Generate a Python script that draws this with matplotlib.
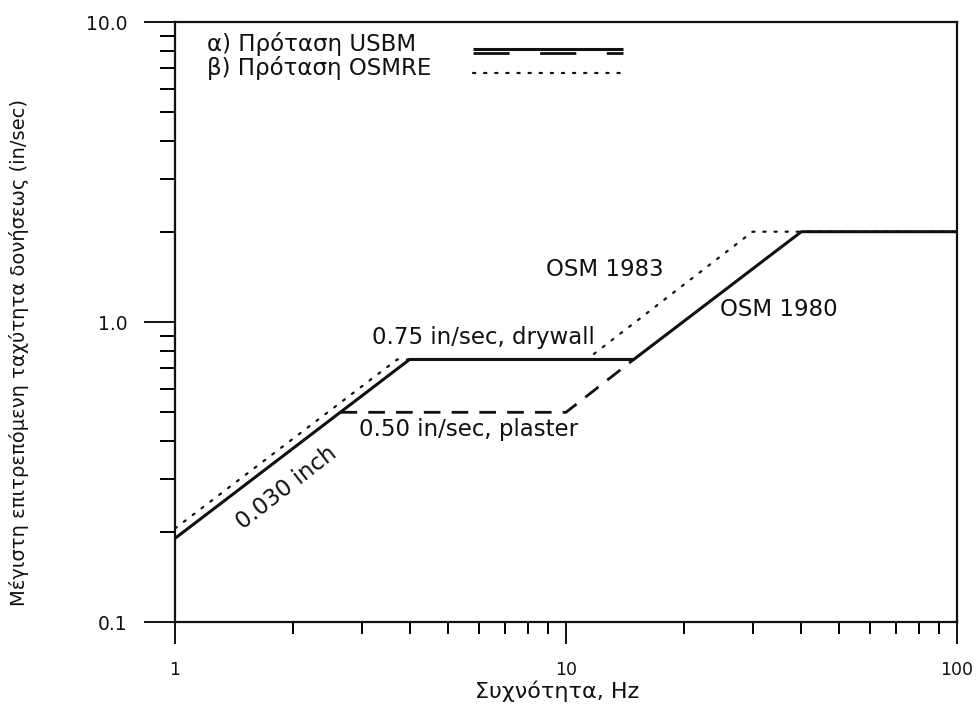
import matplotlib
matplotlib.use("Agg")
import matplotlib.pyplot as plt
from matplotlib.ticker import FixedLocator, FixedFormatter, LogLocator, NullFormatter

plt.rcParams["font.family"] = ["DejaVu Sans"]

# USBM criterion (drywall): 0.030 in displacement, 0.75 in/s plateau, 0.008 in displacement, 2.0 in/s
usbm_drywall_hz = [1.0, 3.98, 14.9, 40.0, 100.0]
usbm_drywall_ips = [0.19, 0.75, 0.75, 2.0, 2.0]

# USBM criterion (plaster): 0.50 in/s plateau
usbm_plaster_hz = [2.65, 10.0, 14.9]
usbm_plaster_ips = [0.5, 0.5, 0.75]

# OSMRE criterion (OSM 1983)
osmre_hz = [1.0, 3.7, 11.3, 30.0, 100.0]
osmre_ips = [0.205, 0.75, 0.75, 2.0, 2.0]

x_ticks = [1, 10, 100]
x_tick_labels = ["1", "10", "100"]
y_ticks = [0.1, 1.0, 10.0]
y_tick_labels = ["0.1", "1.0", "10.0"]

legend_labels = ["α) Πρόταση USBM", "β) Πρόταση OSMRE"]
x_label = "Συχνότητα, Hz"
y_label = "Μέγιστη επιτρεπόμενη ταχύτητα δονήσεως (in/sec)"

# (text, x, y, rotation)
annotations = [
    ("OSM 1983", 12.6, 1.50, 0),
    ("OSM 1980", 35.1, 1.10, 0),
    ("0.75 in/sec, drywall", 6.13, 0.885, 0),
    ("0.50 in/sec, plaster", 5.62, 0.437, 0),
    ("0.030 inch", 1.93, 0.28, 38),
]

fig = plt.figure(figsize=(9.78, 7.06), dpi=100)
ax = fig.add_axes([175 / 978, 1 - 622 / 706, 782 / 978, 600 / 706])

ink = "#111111"
dot_style = dict(color=ink, lw=1.6, linestyle=(0, (1, 4)), dash_capstyle="round")
dash_style = dict(color=ink, lw=2.0, linestyle=(0, (6, 4)))
solid_style = dict(color=ink, lw=2.2, solid_capstyle="butt")

ax.plot(osmre_hz, osmre_ips, zorder=2, **dot_style)
ax.plot(usbm_plaster_hz, usbm_plaster_ips, zorder=3, **dash_style)
ax.plot(usbm_drywall_hz, usbm_drywall_ips, zorder=4, **solid_style)

ax.set_xscale("log")
ax.set_yscale("log")
ax.set_xlim(1, 100)
ax.set_ylim(0.1, 10)

ax.xaxis.set_major_locator(FixedLocator(x_ticks))
ax.xaxis.set_major_formatter(FixedFormatter(x_tick_labels))
ax.yaxis.set_major_locator(FixedLocator(y_ticks))
ax.yaxis.set_major_formatter(FixedFormatter(y_tick_labels))
ax.xaxis.set_minor_locator(LogLocator(base=10, subs=range(2, 10)))
ax.yaxis.set_minor_locator(LogLocator(base=10, subs=range(2, 10)))
ax.xaxis.set_minor_formatter(NullFormatter())
ax.yaxis.set_minor_formatter(NullFormatter())

ax.tick_params(axis="x", which="major", direction="out", length=16, width=1.4,
               pad=12, labelsize=12.5, colors=ink)
ax.tick_params(axis="x", which="minor", direction="out", length=8.5, width=1.4)
ax.tick_params(axis="y", which="major", direction="out", length=22, width=1.4,
               pad=12, labelsize=13.5, colors=ink)
ax.tick_params(axis="y", which="minor", direction="out", length=11, width=1.4)
ax.tick_params(top=False, right=False, which="both")

for sp in ax.spines.values():
    sp.set_linewidth(1.6)
    sp.set_color(ink)

ax.set_xlabel(x_label, fontsize=16, color=ink, va="center")
ax.xaxis.set_label_coords(0.489, -0.116)
ax.set_ylabel(y_label, fontsize=14, color=ink, va="center")
ax.yaxis.set_label_coords(-0.2, 0.45)

for text, x, y, rot in annotations:
    ax.text(x, y, text, fontsize=16.5, color=ink, ha="center", va="center",
            rotation=rot, rotation_mode="anchor")

# Key in the upper-left corner: labels on the left, line samples on the right
key_tr = ax.transAxes
ax.text(0.041, 0.963, legend_labels[0], transform=key_tr, fontsize=16.5,
        color=ink, ha="left", va="center")
ax.text(0.041, 0.923, legend_labels[1], transform=key_tr, fontsize=16.5,
        color=ink, ha="left", va="center")
ax.plot([0.381, 0.573], [0.955, 0.955], transform=key_tr, clip_on=False,
        **solid_style)
ax.plot([0.381, 0.573], [0.948, 0.948], transform=key_tr, clip_on=False,
        color=ink, lw=2.0, linestyle=(0, (13, 11)))
ax.plot([0.381, 0.573], [0.915, 0.915], transform=key_tr, clip_on=False,
        **dot_style)

fig.savefig("out.png", dpi=100, facecolor="white")
